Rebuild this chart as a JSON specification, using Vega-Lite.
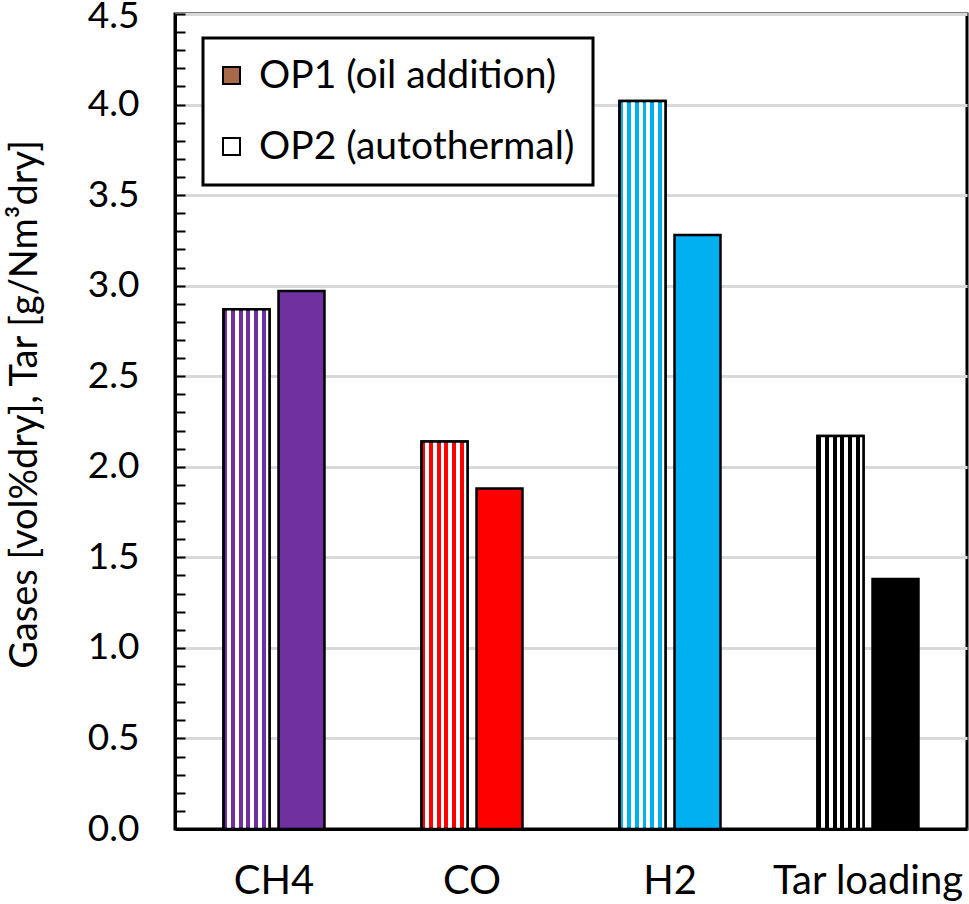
{
  "$schema": "https://vega.github.io/schema/vega-lite/v6.json",
  "width": 792,
  "height": 815,
  "autosize": {"type": "none"},
  "padding": {"left": 175, "top": 14, "right": 2, "bottom": 75},
  "config": {
    "font": "Lato",
    "view": {"stroke": "black", "strokeWidth": 3},
    "legend": {"strokeWidth": 3}
  },
  "data": {
    "values": [
      {"gas": "CH4", "op": "OP1 (oil addition)", "value": 2.87},
      {"gas": "CH4", "op": "OP2 (autothermal)", "value": 2.97},
      {"gas": "CO", "op": "OP1 (oil addition)", "value": 2.14},
      {"gas": "CO", "op": "OP2 (autothermal)", "value": 1.88},
      {"gas": "H2", "op": "OP1 (oil addition)", "value": 4.02},
      {"gas": "H2", "op": "OP2 (autothermal)", "value": 3.28},
      {"gas": "Tar loading", "op": "OP1 (oil addition)", "value": 2.17},
      {"gas": "Tar loading", "op": "OP2 (autothermal)", "value": 1.38}
    ]
  },
  "encoding": {
    "x": {
      "field": "gas",
      "type": "nominal",
      "sort": null,
      "scale": {"paddingInner": 0.49, "paddingOuter": 0.245},
      "axis": {
        "title": null,
        "labelAngle": 0,
        "labelFontSize": 40,
        "labelLimit": 400,
        "labelColor": "black",
        "labelPadding": 32,
        "ticks": false,
        "domainColor": "black",
        "domainWidth": 3
      }
    },
    "xOffset": {
      "field": "op",
      "type": "nominal",
      "scale": {"paddingInner": 0.164, "paddingOuter": 0}
    },
    "y": {
      "field": "value",
      "type": "quantitative",
      "scale": {"domain": [0, 4.5], "nice": false},
      "axis": {
        "title": "Gases [vol%dry], Tar [g/Nm³dry]",
        "titleFontSize": 38,
        "titleFontWeight": "normal",
        "titleColor": "black",
        "titleAngle": -90,
        "titleX": -150,
        "titleY": 390,
        "titleAlign": "center",
        "titleBaseline": "middle",
        "values": [0, 0.1, 0.2, 0.3, 0.4, 0.5, 0.6, 0.7, 0.8, 0.9, 1, 1.1, 1.2, 1.3, 1.4, 1.5, 1.6, 1.7, 1.8, 1.9, 2, 2.1, 2.2, 2.3, 2.4, 2.5, 2.6, 2.7, 2.8, 2.9, 3, 3.1, 3.2, 3.3, 3.4, 3.5, 3.6, 3.7, 3.8, 3.9, 4, 4.1, 4.2, 4.3, 4.4, 4.5],
        "labelExpr": "abs(datum.value * 2 - round(datum.value * 2)) < 0.001 ? format(datum.value, '.1f') : ''",
        "labelOverlap": false,
        "labelFlush": false,
        "labelOffset": {"condition": {"test": "datum.value > 4.45", "value": 2}, "value": 0},
        "labelFontSize": 37,
        "labelColor": "black",
        "labelPadding": 46,
        "tickSize": -10,
        "tickWidth": 2,
        "tickColor": "black",
        "domainColor": "black",
        "domainWidth": 3,
        "grid": true,
        "gridColor": "#d9d9d9",
        "gridWidth": 3,
        "gridOpacity": {
          "condition": {"test": "abs(datum.value * 2 - round(datum.value * 2)) < 0.001", "value": 1},
          "value": 0
        }
      }
    }
  },
  "layer": [
    {
      "mark": {"type": "bar", "opacity": 0},
      "encoding": {
        "fill": {
          "field": "op",
          "type": "nominal",
          "scale": {
            "domain": ["OP1 (oil addition)", "OP2 (autothermal)"],
            "range": ["#a8694a", "#ffffff"]
          },
          "legend": {
            "title": null,
            "orient": "none",
            "legendX": 28,
            "legendY": 24,
            "direction": "vertical",
            "padding": 18,
            "rowPadding": 31,
            "strokeColor": "black",
            "fillColor": "white",
            "symbolType": "square",
            "symbolSize": 289,
            "symbolOffset": -9,
            "symbolStrokeWidth": 2,
            "symbolStrokeColor": "black",
            "symbolOpacity": 1,
            "labelFontSize": 39,
            "labelColor": "black",
            "labelOffset": 8,
            "labelLimit": 500
          }
        }
      }
    },
    {
      "mark": {"type": "bar", "stroke": "black", "strokeWidth": 2.5},
      "encoding": {
        "fill": {
          "field": "gas",
          "type": "nominal",
          "scale": {
            "domain": ["CH4", "CO", "H2", "Tar loading"],
            "range": ["#7030a0", "#ff0000", "#00b0f0", "#000000"]
          },
          "legend": null
        }
      }
    },
    {
      "transform": [{"filter": "datum.op === 'OP1 (oil addition)'"}],
      "mark": {
        "type": "bar",
        "stroke": "black",
        "strokeWidth": 2.5,
        "fill": {
          "gradient": "linear",
          "x1": 0, "y1": 0, "x2": 1, "y2": 0,
          "stops": [
            {"offset": 0, "color": "rgba(255,255,255,0)"},
            {"offset": 0.0833, "color": "rgba(255,255,255,0)"},
            {"offset": 0.0833, "color": "#ffffff"},
            {"offset": 0.1667, "color": "#ffffff"},
            {"offset": 0.1667, "color": "rgba(255,255,255,0)"},
            {"offset": 0.25, "color": "rgba(255,255,255,0)"},
            {"offset": 0.25, "color": "#ffffff"},
            {"offset": 0.3333, "color": "#ffffff"},
            {"offset": 0.3333, "color": "rgba(255,255,255,0)"},
            {"offset": 0.4167, "color": "rgba(255,255,255,0)"},
            {"offset": 0.4167, "color": "#ffffff"},
            {"offset": 0.5, "color": "#ffffff"},
            {"offset": 0.5, "color": "rgba(255,255,255,0)"},
            {"offset": 0.5833, "color": "rgba(255,255,255,0)"},
            {"offset": 0.5833, "color": "#ffffff"},
            {"offset": 0.6667, "color": "#ffffff"},
            {"offset": 0.6667, "color": "rgba(255,255,255,0)"},
            {"offset": 0.75, "color": "rgba(255,255,255,0)"},
            {"offset": 0.75, "color": "#ffffff"},
            {"offset": 0.8333, "color": "#ffffff"},
            {"offset": 0.8333, "color": "rgba(255,255,255,0)"},
            {"offset": 0.9167, "color": "rgba(255,255,255,0)"},
            {"offset": 0.9167, "color": "#ffffff"},
            {"offset": 1, "color": "#ffffff"}
          ]
        }
      }
    }
  ],
  "resolve": {"scale": {"fill": "independent"}}
}
